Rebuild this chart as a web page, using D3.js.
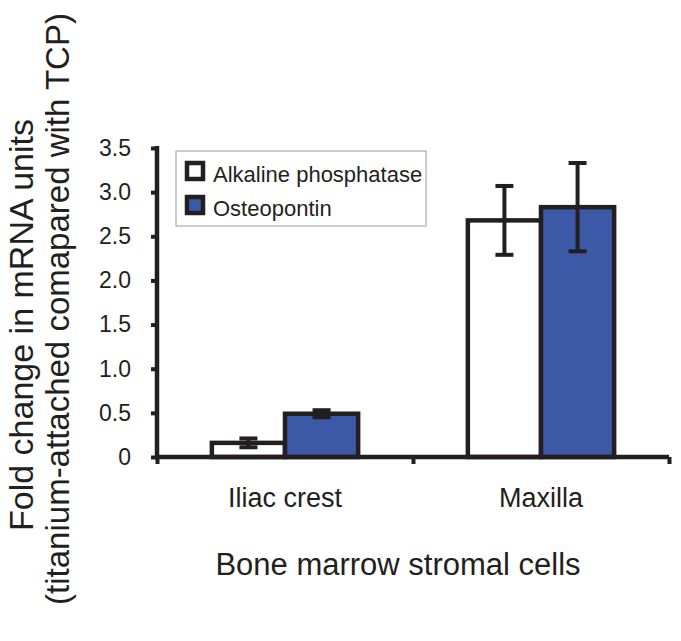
<!DOCTYPE html>
<html><head><meta charset="utf-8">
<script src="https://cdn.jsdelivr.net/npm/d3@7"></script>
<style>body{margin:0;background:#fff}svg{display:block}text{font-family:"Liberation Sans",Arial,Helvetica,sans-serif;fill:#231f20}</style>
</head><body><svg id="c" width="681" height="641"></svg>
<script>
const categories = ["Iliac crest", "Maxilla"];
const seriesNames = ["Alkaline phosphatase", "Osteopontin"];
const alkalineValues = [0.16, 2.68];
const alkalineErrors = [0.05, 0.39];
const osteopontinValues = [0.49, 2.83];
const osteopontinErrors = [0.04, 0.50];
const yTicks = [0, 0.5, 1.0, 1.5, 2.0, 2.5, 3.0, 3.5];
const yTickLabels = ["0", "0.5", "1.0", "1.5", "2.0", "2.5", "3.0", "3.5"];
const seriesColors = ["#ffffff", "#3b59a7"];

(function(){
const data = categories.map((c, i) => ({
  cat: c,
  vals: [
    {s: seriesNames[0], v: alkalineValues[i], e: alkalineErrors[i]},
    {s: seriesNames[1], v: osteopontinValues[i], e: osteopontinErrors[i]}
  ]
}));

const svg = d3.select("#c");
const ink = "#231f20";
const pL = 157, pR = 669, pT = 148, pB = 457;

const y = d3.scaleLinear().domain([0, 3.5]).range([pB, pT]);
const x0 = d3.scaleBand().domain(categories).range([pL, pR]).padding(0);
const x1 = d3.scaleBand().domain(seriesNames).range([0, x0.bandwidth()]).paddingInner(0).paddingOuter(0.75);
const color = d3.scaleOrdinal().domain(seriesNames).range(seriesColors);

// bars
const g = svg.append("g");
const groups = g.selectAll("g.cat").data(data).join("g").attr("class", "cat").attr("transform", d => `translate(${x0(d.cat)},0)`);
groups.selectAll("rect").data(d => d.vals).join("rect")
  .attr("x", d => x1(d.s)).attr("width", x1.bandwidth())
  .attr("y", d => y(d.v)).attr("height", d => y(0) - y(d.v))
  .attr("fill", d => color(d.s)).attr("stroke", ink).attr("stroke-width", 4.5);

// error bars
const eb = groups.selectAll("g.err").data(d => d.vals).join("g").attr("class", "err")
  .attr("transform", d => `translate(${x1(d.s) + x1.bandwidth()/2},0)`);
eb.append("line").attr("y1", d => y(d.v + d.e)).attr("y2", d => y(d.v - d.e))
  .attr("stroke", ink).attr("stroke-width", 4);
eb.append("line").attr("x1", -9).attr("x2", 9).attr("y1", d => y(d.v + d.e)).attr("y2", d => y(d.v + d.e))
  .attr("stroke", ink).attr("stroke-width", 4);
eb.append("line").attr("x1", -9).attr("x2", 9).attr("y1", d => y(d.v - d.e)).attr("y2", d => y(d.v - d.e))
  .attr("stroke", ink).attr("stroke-width", 4);

// y axis
const yAxis = d3.axisLeft(y).tickValues(yTicks).tickFormat((d, i) => yTickLabels[i]).tickSize(6).tickPadding(20);
const ya = svg.append("g").attr("transform", `translate(${pL},0)`).call(yAxis);
ya.select(".domain").remove();
ya.selectAll(".tick line").attr("stroke", ink).attr("stroke-width", 4);
ya.selectAll(".tick text").attr("font-size", 23).attr("font-family", "Liberation Sans, Arial, sans-serif").attr("fill", ink);
svg.append("line").attr("x1", pL).attr("x2", pL).attr("y1", pT - 2).attr("y2", pB + 2)
  .attr("stroke", ink).attr("stroke-width", 4.5);

// x axis
const xTickPos = [pL, (pL + pR) / 2, pR];
const xScaleLin = d3.scaleLinear().domain([pL, pR]).range([pL, pR]);
const xa = svg.append("g").attr("transform", `translate(0,${pB})`)
  .call(d3.axisBottom(xScaleLin).tickValues(xTickPos).tickFormat("").tickSize(7));
xa.select(".domain").remove();
xa.selectAll(".tick line").attr("stroke", ink).attr("stroke-width", 4);
svg.append("line").attr("x1", pL - 2).attr("x2", pR).attr("y1", pB).attr("y2", pB)
  .attr("stroke", ink).attr("stroke-width", 4.5);

// category labels
svg.selectAll("text.catl").data(categories).join("text").attr("class", "catl")
  .attr("x", d => x0(d) + x0.bandwidth()/2).attr("y", 507)
  .attr("text-anchor", "middle").attr("font-size", 27).text(d => d);

// x title
svg.append("text").attr("x", 398).attr("y", 575).attr("text-anchor", "middle")
  .attr("font-size", 31).text("Bone marrow stromal cells");

// y title
svg.append("text").attr("transform", "translate(33,325) rotate(-90)").attr("text-anchor", "middle")
  .attr("font-size", 34).text("Fold change in mRNA units");
svg.append("text").attr("transform", "translate(69,309) rotate(-90)").attr("text-anchor", "middle")
  .attr("font-size", 33).text("(titanium-attached comapared with TCP)");

// legend
const lg = svg.append("g").attr("transform", "translate(176,151)");
lg.append("rect").attr("width", 250).attr("height", 75).attr("fill", "#fff").attr("stroke", "#9a9a9a").attr("stroke-width", 1);
const li = lg.selectAll("g.li").data(seriesNames).join("g").attr("class", "li").attr("transform", (d, i) => `translate(11,${12 + i * 34})`);
li.append("rect").attr("width", 16).attr("height", 16).attr("fill", d => color(d)).attr("stroke", ink).attr("stroke-width", 4.5);
li.append("text").attr("x", 26).attr("y", 19).attr("font-size", 22).text(d => d);
})();
</script></body></html>
